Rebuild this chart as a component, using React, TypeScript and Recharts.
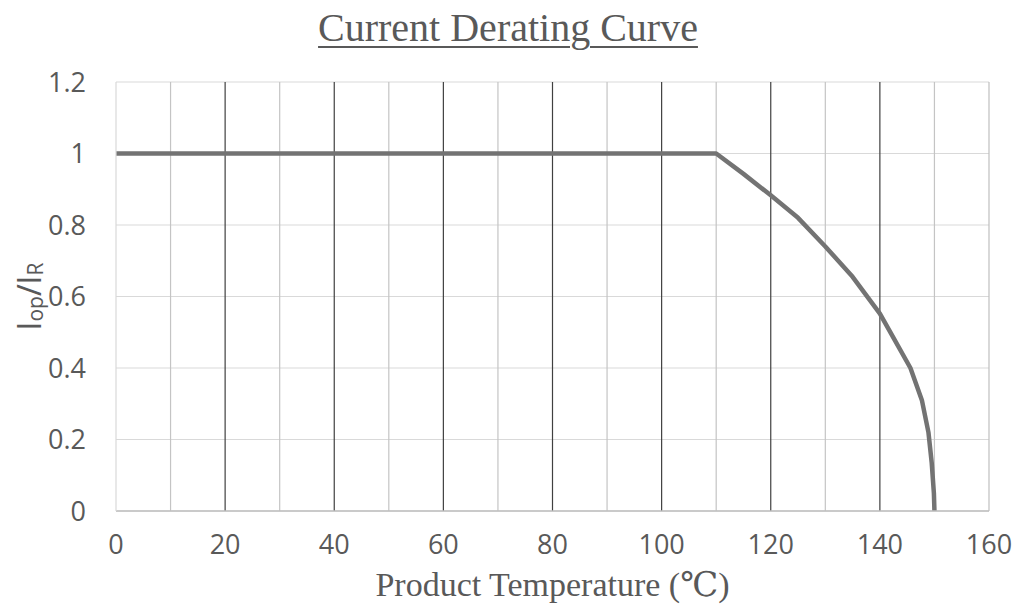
import React from "react";
import {
  LineChart,
  Line,
  XAxis,
  YAxis,
  CartesianGrid,
  ReferenceLine,
} from "recharts";

// derating curve: flat up to 110, then rolls off to 0 at 150
const temps = [0, 110, 115, 120, 125, 130, 135, 140, 142.5, 145.6, 147.7, 148.9, 149.5, 149.9, 150];
const ratios = [1, 1, 0.943, 0.883, 0.82, 0.74, 0.655, 0.552, 0.484, 0.4, 0.31, 0.22, 0.135, 0.05, 0];

const xTicks = [0, 20, 40, 60, 80, 100, 120, 140, 160];
const yTicks = [0, 0.2, 0.4, 0.6, 0.8, 1, 1.2];
const minorX = [10, 30, 50, 70, 90, 110, 130, 150];
const majorX = [20, 40, 60, 80, 100, 120, 140];

const data = temps.map((t, i) => ({ t, ratio: ratios[i] }));

const tickFont = "'Open Sans', sans-serif";
const serifFont = "'Liberation Serif', 'DejaVu Serif', serif";

const YLabel = (props: any) => {
  const vb = props.viewBox || {};
  const cx = 28;
  const cy = (vb.y ?? 82) + (vb.height ?? 429) / 2;
  return (
    <text
      x={cx}
      y={cy}
      transform={`rotate(-90, ${cx}, ${cy})`}
      textAnchor="middle"
      dominantBaseline="central"
      fill="#595959"
      fontFamily={tickFont}
      fontSize={32}
    >
      <tspan>I</tspan>
      <tspan fontSize={21} dy={7}>op</tspan>
      <tspan dy={-7}>/I</tspan>
      <tspan fontSize={21} dy={7}>R</tspan>
    </text>
  );
};

export default function App() {
  return (
    <div style={{ position: "absolute", left: 0, top: 0, width: 1016, height: 606, background: "#fff" }}>
      <div
        style={{
          position: "absolute",
          top: 4,
          left: 0,
          width: 1016,
          textAlign: "center",
          fontFamily: serifFont,
          fontSize: 40,
          color: "#595959",
          textDecoration: "underline",
          textDecorationThickness: 2,
          textUnderlineOffset: 5,
        }}
      >
        Current Derating Curve
      </div>
      <LineChart
        width={1016}
        height={606}
        data={data}
        margin={{ top: 82, right: 27, bottom: 0, left: 0 }}
      >
        <CartesianGrid vertical={false} stroke="#d9d9d9" strokeWidth={1.2} />
        {minorX.map((v) => (
          <ReferenceLine key={"m" + v} x={v} stroke="#c4c4c4" strokeWidth={1.2} />
        ))}
        {majorX.map((v) => (
          <ReferenceLine key={"M" + v} x={v} stroke="#404040" strokeWidth={1.2} />
        ))}
        <ReferenceLine x={160} stroke="#bfbfbf" strokeWidth={1.2} />
        <XAxis
          dataKey="t"
          type="number"
          domain={[0, 160]}
          ticks={xTicks}
          interval={0}
          height={95}
          tickLine={false}
          tickSize={0}
          tickMargin={24}
          axisLine={{ stroke: "#bfbfbf", strokeWidth: 1.5 }}
          tick={{ fill: "#595959", fontSize: 27, fontFamily: tickFont }}
          label={{
            value: "Product Temperature (℃)",
            position: "insideBottom",
            offset: 10,
            fill: "#595959",
            fontSize: 34,
            fontFamily: serifFont,
          }}
        />
        <YAxis
          type="number"
          domain={[0, 1.2]}
          ticks={yTicks}
          interval={0}
          width={116}
          tickLine={false}
          tickSize={0}
          tickMargin={30}
          axisLine={{ stroke: "#d9d9d9", strokeWidth: 1.2 }}
          tick={{ fill: "#595959", fontSize: 27, fontFamily: tickFont }}
          label={<YLabel />}
        />
        <Line
          dataKey="ratio"
          type="linear"
          stroke="#737373"
          strokeWidth={4.5}
          strokeLinejoin="round"
          dot={false}
          activeDot={false}
          isAnimationActive={false}
        />
      </LineChart>
    </div>
  );
}
